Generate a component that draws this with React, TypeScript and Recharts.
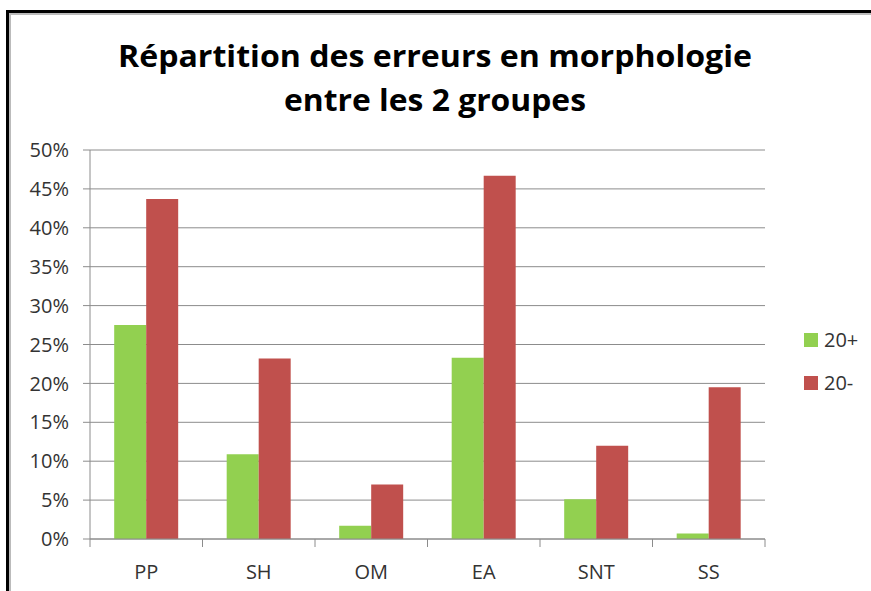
import { BarChart, Bar, XAxis, YAxis, CartesianGrid } from 'recharts';

const categories = ['PP', 'SH', 'OM', 'EA', 'SNT', 'SS'];
const plus20 = [27.5, 10.9, 1.7, 23.3, 5.1, 0.7];
const minus20 = [43.7, 23.2, 7.0, 46.7, 12.0, 19.5];
const yTicks = [0, 5, 10, 15, 20, 25, 30, 35, 40, 45, 50];
const seriesNames = ['20+', '20-'];

const data = categories.map((name, i) => ({ name, plus: plus20[i], minus: minus20[i] }));

const W = 871;
const H = 591;
const margin = { top: 150, right: 106, bottom: 12, left: 10 };
const yAxisWidth = 80;
const bandW = (W - margin.left - yAxisWidth - margin.right) / categories.length;

const GREEN = '#92D050';
const RED = '#C0504D';
const GRID = '#8c8c8c';
const TEXT = '#333';
const FONT = '"Open Sans", sans-serif';

const XTick = (props: any) => {
  const { x, y, payload, index } = props;
  const last = index === categories.length - 1;
  return (
    <g>
      <line x1={x - bandW / 2} x2={x - bandW / 2} y1={y} y2={y + 8} stroke={GRID} />
      {last && <line x1={x + bandW / 2} x2={x + bandW / 2} y1={y} y2={y + 8} stroke={GRID} />}
      <text x={x} y={y + 40} textAnchor="middle" fill={TEXT} fontSize={20} fontFamily={FONT}>
        {payload.value}
      </text>
    </g>
  );
};

// legend drawn outside the chart so it doesn't shrink the plot area
const LegendBox = () => (
  <div style={{ position: 'absolute', left: 804, top: 318, fontFamily: FONT, fontSize: 20, color: TEXT }}>
    {[GREEN, RED].map((color, i) => (
      <div key={seriesNames[i]} style={{ display: 'flex', alignItems: 'center', height: 43 }}>
        <span style={{ width: 14, height: 14, background: color, display: 'inline-block', marginRight: 6 }} />
        {seriesNames[i]}
      </div>
    ))}
  </div>
);

export default function App() {
  return (
    <div style={{ position: 'relative', width: W, height: H, background: '#fff', overflow: 'hidden' }}>
      <style>{'body{margin:0}'}</style>
      <div style={{ position: 'absolute', left: 6, top: 10, right: -10, bottom: -10, borderTop: '3px solid #000', borderLeft: '3px solid #000' }} />
      <div style={{ position: 'absolute', left: 9, top: 13, right: -10, bottom: -10, borderTop: '2px solid #bbb', borderLeft: '2px solid #bbb' }} />
      <svg width={W} height={140} style={{ position: 'absolute', left: 0, top: 0 }}>
        <text x={435} y={67} textAnchor="middle" fontFamily={FONT} fontWeight="bold" fontSize={31} fill="#000" textLength={634} lengthAdjust="spacingAndGlyphs">
          Répartition des erreurs en morphologie
        </text>
        <text x={435} y={111} textAnchor="middle" fontFamily={FONT} fontWeight="bold" fontSize={31} fill="#000" textLength={302} lengthAdjust="spacingAndGlyphs">
          entre les 2 groupes
        </text>
      </svg>
      <div style={{ position: 'absolute', left: 0, top: 0 }}>
        <BarChart width={W} height={H} data={data} margin={margin} barCategoryGap="21.5%" barGap={0}>
          <CartesianGrid vertical={false} stroke={GRID} />
          <XAxis
            dataKey="name"
            height={40}
            stroke={GRID}
            tickLine={false}
            tickSize={0}
            tickMargin={0}
            tick={<XTick />}
            interval={0}
          />
          <YAxis
            width={yAxisWidth}
            domain={[0, 50]}
            ticks={yTicks}
            stroke={GRID}
            tickSize={7}
            tickMargin={14}
            tickFormatter={(v: number) => `${v}%`}
            tick={{ fill: TEXT, fontSize: 20, fontFamily: FONT }}
            interval={0}
          />
          <Bar dataKey="plus" name={seriesNames[0]} fill={GREEN} isAnimationActive={false} />
          <Bar dataKey="minus" name={seriesNames[1]} fill={RED} isAnimationActive={false} />
        </BarChart>
      </div>
      <LegendBox />
    </div>
  );
}
